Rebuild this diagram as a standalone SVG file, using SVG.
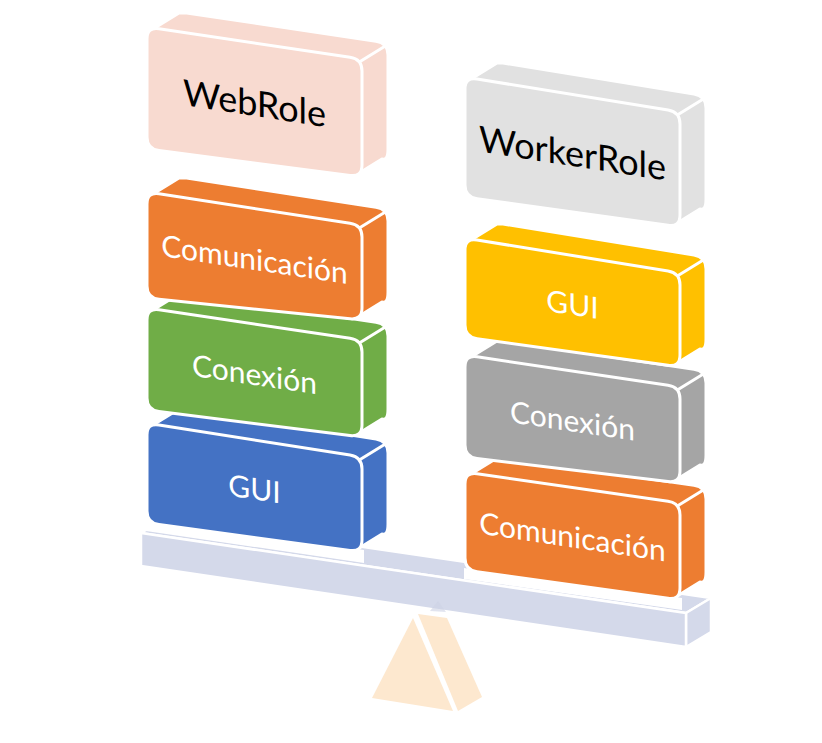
<svg xmlns="http://www.w3.org/2000/svg" width="822" height="743" viewBox="0 0 822 743">
<style>
.f{stroke:#fff;stroke-width:3;stroke-linejoin:round}
.e{stroke:#fff;stroke-width:3;stroke-linecap:round;fill:none}
.t{font-family:Lato,"Open Sans",sans-serif;font-size:30px;fill:#fff;text-anchor:middle}
.tt{font-family:Lato,"Open Sans",sans-serif;font-size:36px;fill:#000;text-anchor:middle}
.beam{fill:#D4D9EA;stroke:#fff;stroke-width:2.5;stroke-linejoin:round}
.ful{fill:#FDE8CF}
</style>
<rect width="822" height="743" fill="#fff"/>

<g id="fulcrum">
<polygon class="ful" points="413,618 372,698 453,711"/>
<polygon class="ful" points="418,614 447,618 482,697 458,711"/>
</g>

<g id="beam">
<polygon class="beam" points="141,533 166,518 711,598 686,613"/>
<polygon class="beam" points="686,613 711,598 711,632 686,647"/>
<polygon class="beam" points="141,533 686,613 686,647 141,566"/>
<polygon points="430,611 438,601 446,612" fill="#CDD2E4" opacity="0.6"/>
<polygon points="146,520 364,550 364,563 146,531" fill="#fff"/>
<polygon points="464,568 682,598 682,610 464,579" fill="#fff"/>
</g>

<g id="left-gui">
<path class="f" fill="#4472C4" d="M153,425 L179,409 L185,408.9 L376,439.1 Q388,441 388,453 L388,524 Q388,536 382,534 L356,550 L153,517 Z"/>
<line class="e" x1="358.5" y1="460.5" x2="384.5" y2="444.5"/>
<path class="f" fill="#4472C4" d="M147,435 Q147,423 159,424.9 L350,455.1 Q362,457 362,469 L362,540 Q362,552 350,550.4 L159,524.6 Q147,523 147,511 Z"/>
<g transform="translate(254.5,488.5) skewY(8.5)"><text class="t" x="0" y="11">GUI</text></g>
</g>

<g id="left-conexion">
<path class="f" fill="#70AD47" d="M153,310 L179,294 L185,293.8 L376,322.2 Q388,324 388,336 L388,409 Q388,421 382,419 L356,435 L153,404 Z"/>
<line class="e" x1="358.5" y1="343.5" x2="384.5" y2="327.5"/>
<path class="f" fill="#70AD47" d="M147,320 Q147,308 159,309.8 L350,338.2 Q362,340 362,352 L362,425 Q362,437 350,435.5 L159,411.5 Q147,410 147,398 Z"/>
<g transform="translate(254.5,374) skewY(8.5)"><text class="t" x="0" y="11">Conexión</text></g>
</g>

<g id="left-comunicacion">
<path class="f" fill="#ED7D31" d="M153,194 L179,178 L185,177.8 L376,207.2 Q388,209 388,221 L388,292 Q388,304 382,302 L356,318 L153,292 Z"/>
<line class="e" x1="358.5" y1="228.5" x2="384.5" y2="212.5"/>
<path class="f" fill="#ED7D31" d="M147,204 Q147,192 159,193.8 L350,223.2 Q362,225 362,237 L362,308 Q362,320 350,318.8 L159,299.2 Q147,298 147,286 Z"/>
<g transform="translate(254.5,259) skewY(8.5)"><text class="t" x="0" y="11">Comunicación</text></g>
</g>

<g id="webrole">
<path class="f" fill="#F8DAD0" d="M153,29 L179,13 L185,12.8 L376,41.2 Q388,43 388,55 L388,149 Q388,161 382,159 L356,175 L153,143 Z"/>
<line class="e" x1="358.5" y1="62.5" x2="384.5" y2="46.5"/>
<path class="f" fill="#F8DAD0" d="M147,39 Q147,27 159,28.8 L350,57.2 Q362,59 362,71 L362,165 Q362,177 350,175.4 L159,150.6 Q147,149 147,137 Z"/>
<g transform="translate(254.5,103) skewY(8.8)"><text class="tt" x="0" y="13">WebRole</text></g>
</g>

<g id="right-comunicacion">
<path class="f" fill="#ED7D31" d="M471,474 L497,458 L503,457.7 L694,485.3 Q706,487 706,499 L706,572 Q706,584 700,582 L674,598 L471,564 Z"/>
<line class="e" x1="676.5" y1="506.5" x2="702.5" y2="490.5"/>
<path class="f" fill="#ED7D31" d="M465,484 Q465,472 477,473.7 L668,501.3 Q680,503 680,515 L680,588 Q680,600 668,598.3 L477,571.7 Q465,570 465,558 Z"/>
<g transform="translate(572.5,536.5) skewY(8.5)"><text class="t" x="0" y="11">Comunicación</text></g>
</g>

<g id="right-conexion">
<path class="f" fill="#A5A5A5" d="M471,357 L497,341 L503,340.8 L694,369.2 Q706,371 706,383 L706,455 Q706,467 700,465 L674,481 L471,451 Z"/>
<line class="e" x1="676.5" y1="390.5" x2="702.5" y2="374.5"/>
<path class="f" fill="#A5A5A5" d="M465,367 Q465,355 477,356.8 L668,385.2 Q680,387 680,399 L680,471 Q680,483 668,481.5 L477,458.5 Q465,457 465,445 Z"/>
<g transform="translate(572.5,420.5) skewY(8.5)"><text class="t" x="0" y="11">Conexión</text></g>
</g>

<g id="right-gui">
<path class="f" fill="#FFC000" d="M471,240 L497,224 L503,224 L694,255 Q706,257 706,269 L706,339 Q706,351 700,349 L674,365 L471,331 Z"/>
<line class="e" x1="676.5" y1="276.5" x2="702.5" y2="260.5"/>
<path class="f" fill="#FFC000" d="M465,250 Q465,238 477,240 L668,271 Q680,273 680,285 L680,355 Q680,367 668,365.3 L477,338.7 Q465,337 465,325 Z"/>
<g transform="translate(572.5,304) skewY(8.5)"><text class="t" x="0" y="11">GUI</text></g>
</g>

<g id="workerrole">
<path class="f" fill="#E1E1E1" d="M471,79 L497,63 L503,63 L694,94 Q706,96 706,108 L706,199 Q706,211 700,209 L674,225 L471,191 Z"/>
<line class="e" x1="676.5" y1="115.5" x2="702.5" y2="99.5"/>
<path class="f" fill="#E1E1E1" d="M465,89 Q465,77 477,79 L668,110 Q680,112 680,124 L680,215 Q680,227 668,225.3 L477,198.7 Q465,197 465,185 Z"/>
<g transform="translate(572.5,153) skewY(8.8)"><text class="tt" x="0" y="13">WorkerRole</text></g>
</g>
</svg>
